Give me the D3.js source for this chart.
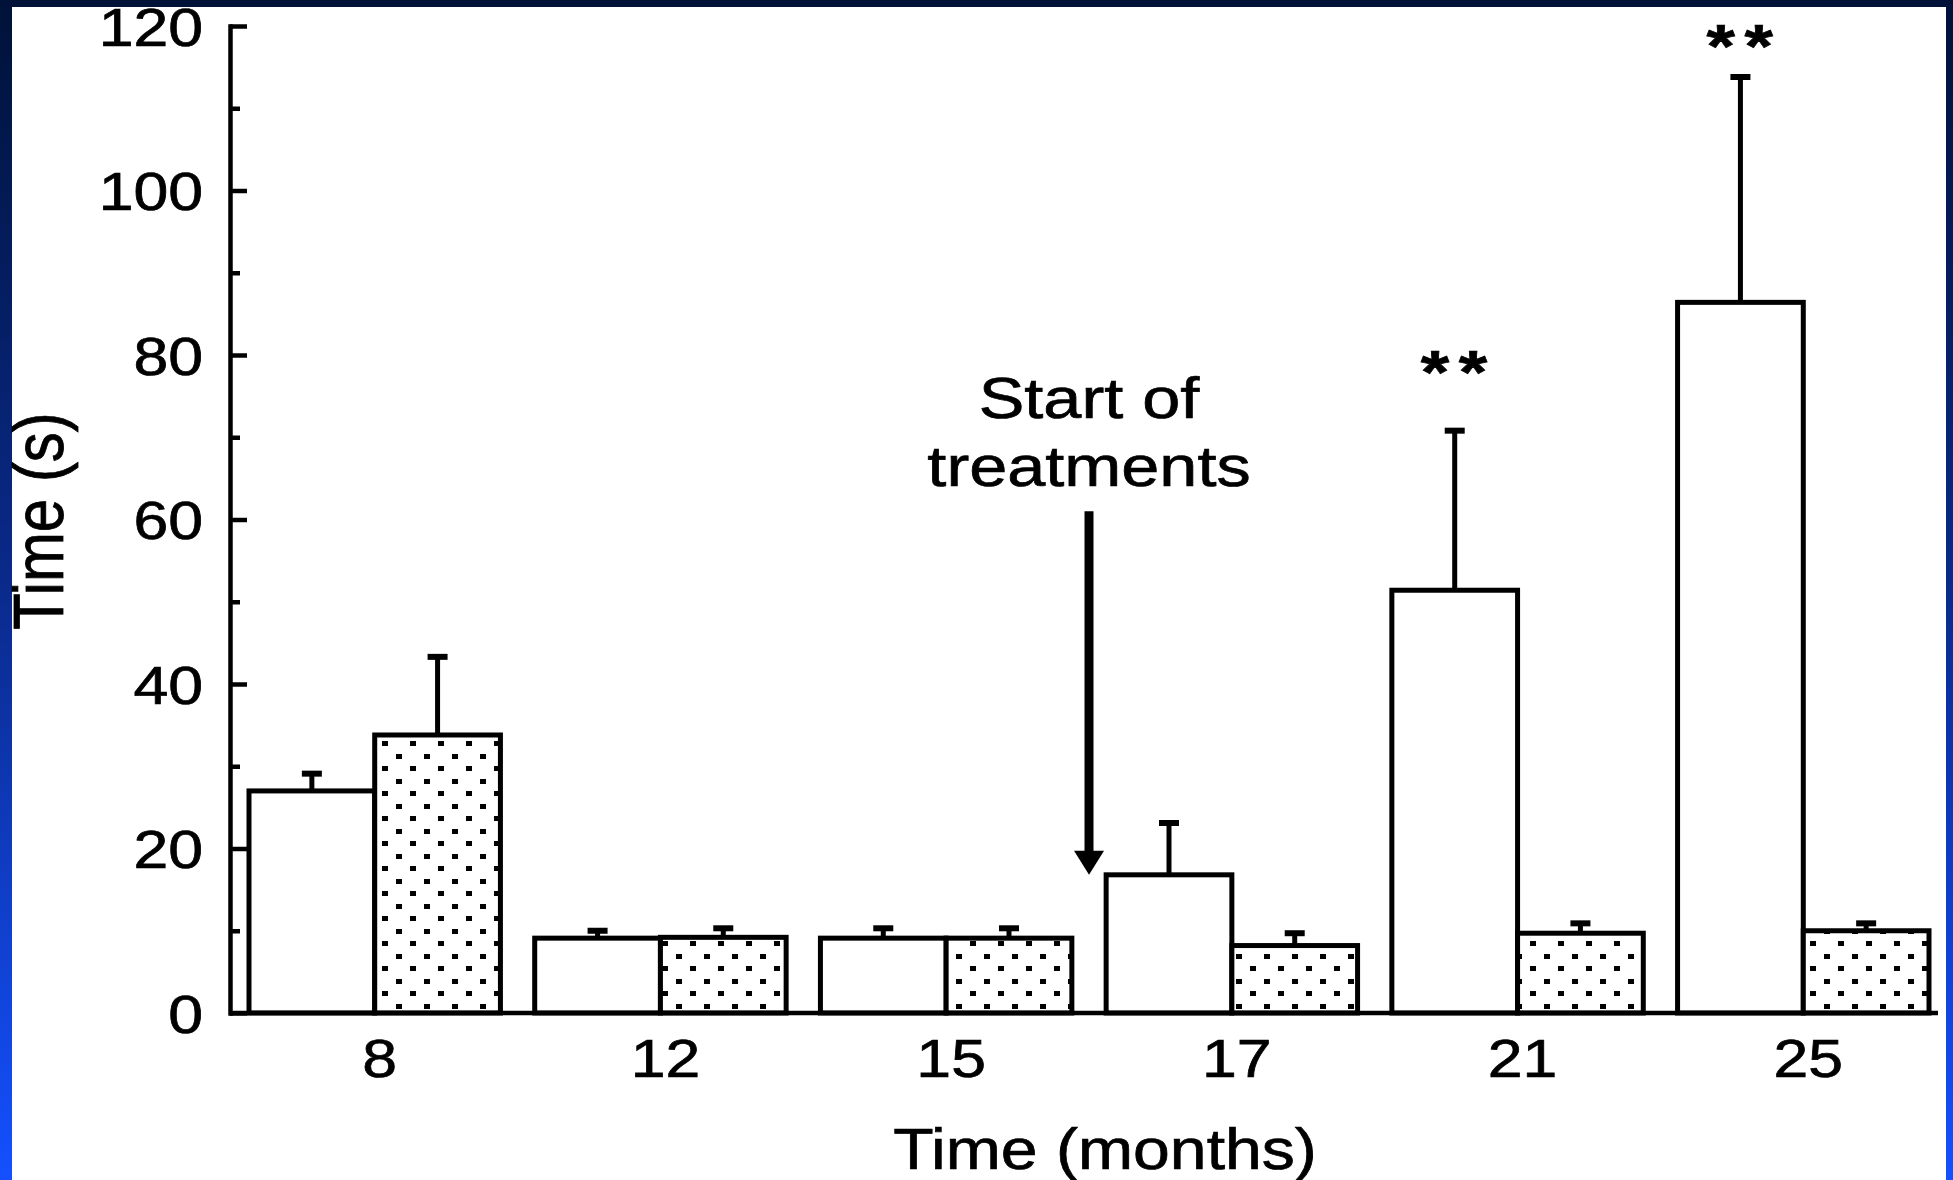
<!DOCTYPE html>
<html>
<head>
<meta charset="utf-8">
<title>Time (s) by month</title>
<script src="https://cdn.jsdelivr.net/npm/d3@7"></script>
<style>
    html, body { margin: 0; padding: 0; background: #fff; overflow: hidden; }
    svg { display: block; }
    text { font-family: "Liberation Sans", Arial, Helvetica, sans-serif; fill: #000; stroke: #000; stroke-width: 0.7px; }
</style>
</head>
<body>
<svg id="chart" width="1953" height="1180"></svg>
<script>
// Data
const MONTHS = ['8', '12', '15', '17', '21', '25'];
const SERIES = ['control', 'treated'];
const CONTROL_MEAN = [27.0, 9.1, 9.1, 16.8, 51.4, 86.4];
const CONTROL_SEM  = [2.1, 0.9, 1.2, 6.3, 19.4, 27.4];
const TREATED_MEAN = [33.8, 9.2, 9.1, 8.2, 9.7, 10.0];
const TREATED_SEM  = [9.5, 1.1, 1.2, 1.5, 1.2, 0.9];
const Y_TICKS = [0, 20, 40, 60, 80, 100, 120];
const Y_MINOR = [10, 30, 50, 70, 90, 110];
// significance marks: month (control bar) and the value height of the label
const SIG_MONTHS = ['21', '25'];
const SIG_LEVEL = [75.1, 114.8];
// "Start of treatments" arrow: between months, from / to value
const ARROW_BETWEEN = ['15', '17'];
const ARROW_RANGE = [61, 16.8];

// Layout
const CONFIG = {
    width: 1953,
    height: 1180,
    axisX: 230,
    baseY: 1013,
    topY: 26,
    barsLeft: 249,
    barsRight: 1929,
    axisEnd: 1938,
    stretch: 1.18,
    stroke: 5
};

const svg = d3.select('#chart');
const defs = svg.append('defs');

// slide background + white figure area
const grad = defs.append('linearGradient')
    .attr('id', 'bg')
    .attr('x1', 0).attr('y1', 0).attr('x2', 0).attr('y2', 1);
grad.append('stop').attr('offset', '0%').attr('stop-color', '#001238');
grad.append('stop').attr('offset', '50%').attr('stop-color', '#0a2a8c');
grad.append('stop').attr('offset', '100%').attr('stop-color', '#1450ff');

svg.append('rect')
    .attr('width', CONFIG.width)
    .attr('height', CONFIG.height)
    .attr('fill', 'url(#bg)');
svg.append('rect')
    .attr('x', 12).attr('y', 7)
    .attr('width', 1934).attr('height', CONFIG.height - 7)
    .attr('fill', '#fff');

// stipple pattern for treated bars
const pat = defs.append('pattern')
    .attr('id', 'dots')
    .attr('patternUnits', 'userSpaceOnUse')
    .attr('width', 28).attr('height', 25);
pat.append('rect').attr('width', 28).attr('height', 25).attr('fill', '#fff');
pat.append('rect').attr('x', 4).attr('y', 4).attr('width', 6).attr('height', 5).attr('fill', '#000');
pat.append('rect').attr('x', 18).attr('y', 16).attr('width', 6).attr('height', 5).attr('fill', '#000');

// Scales
const y = d3.scaleLinear()
    .domain([0, 120])
    .range([CONFIG.baseY, CONFIG.topY]);

const x0 = d3.scaleBand()
    .domain(MONTHS)
    .range([CONFIG.barsLeft, CONFIG.barsRight])
    .paddingInner(0.12)
    .paddingOuter(0);

const x1 = d3.scaleBand()
    .domain(SERIES)
    .range([0, x0.bandwidth()]);

const bars = MONTHS.flatMap((m, i) => [
    { month: m, key: 'control', mean: CONTROL_MEAN[i], sem: CONTROL_SEM[i] },
    { month: m, key: 'treated', mean: TREATED_MEAN[i], sem: TREATED_SEM[i] }
]);

const S = CONFIG.stretch;

// Bars
svg.append('g')
    .selectAll('rect')
    .data(bars)
    .join('rect')
    .attr('x', d => x0(d.month) + x1(d.key))
    .attr('y', d => y(d.mean))
    .attr('width', x1.bandwidth())
    .attr('height', d => y(0) - y(d.mean))
    .attr('fill', d => d.key === 'treated' ? 'url(#dots)' : '#fff')
    .attr('stroke', '#000')
    .attr('stroke-width', CONFIG.stroke);

// Error bars (upper only)
const eb = svg.append('g')
    .selectAll('g')
    .data(bars)
    .join('g')
    .attr('transform', d => `translate(${x0(d.month) + x1(d.key) + x1.bandwidth() / 2},0)`);
eb.append('line')
    .attr('y1', d => y(d.mean))
    .attr('y2', d => y(d.mean + d.sem))
    .attr('stroke', '#000')
    .attr('stroke-width', CONFIG.stroke);
eb.append('line')
    .attr('x1', -10).attr('x2', 10)
    .attr('y1', d => y(d.mean + d.sem))
    .attr('y2', d => y(d.mean + d.sem))
    .attr('stroke', '#000')
    .attr('stroke-width', CONFIG.stroke + 1);

// Y axis, ticks inside
const gy = svg.append('g')
    .attr('transform', `translate(${CONFIG.axisX},0)`)
    .call(d3.axisLeft(y).tickValues(Y_TICKS).tickSize(-17).tickSizeOuter(0).tickPadding(27));
gy.select('.domain').attr('stroke-width', 4.5).attr('stroke-linecap', 'square');
gy.selectAll('.tick line').attr('stroke-width', 4.5);
gy.selectAll('.tick text')
    .attr('font-size', 53)
    .attr('x', 0)
    .attr('dy', '0.36em')
    .attr('transform', `translate(-27,0) scale(${S},1)`);

const gyMinor = svg.append('g')
    .attr('transform', `translate(${CONFIG.axisX},0)`)
    .call(d3.axisLeft(y).tickValues(Y_MINOR).tickSize(-10).tickFormat(''));
gyMinor.select('.domain').remove();
gyMinor.selectAll('.tick line').attr('stroke-width', 4.5);

// X axis baseline + labels
svg.append('line')
    .attr('x1', CONFIG.axisX)
    .attr('x2', CONFIG.axisEnd)
    .attr('y1', y(0))
    .attr('y2', y(0))
    .attr('stroke', '#000')
    .attr('stroke-width', 4.5);

const gx = svg.append('g')
    .attr('transform', `translate(0,${y(0)})`)
    .call(d3.axisBottom(x0).tickSize(0).tickPadding(26));
gx.select('.domain').remove();
gx.selectAll('.tick text')
    .attr('font-size', 53)
    .attr('x', 0)
    .attr('transform', `translate(5,0) scale(${S},1)`);

// Axis titles
svg.append('text')
    .attr('text-anchor', 'middle')
    .attr('font-size', 58)
    .attr('transform', `translate(1105,1169) scale(1.14,1)`)
    .text('Time (months)');

svg.append('text')
    .attr('text-anchor', 'middle')
    .attr('font-size', 60)
    .attr('transform', `translate(63,521) scale(${S},1) rotate(-90)`)
    .text('Time (s)');

// Significance asterisks
SIG_MONTHS.forEach((m, i) => {
    const cx = x0(m) + x1('control') + x1.bandwidth() / 2;
    svg.append('text')
        .attr('text-anchor', 'middle')
        .attr('font-size', 62)
        .attr('font-weight', 'bold')
        .attr('letter-spacing', 8)
        .attr('transform', `translate(${cx + 4},${y(SIG_LEVEL[i]) - 2}) scale(${S},1)`)
        .text('**');
});

// Start of treatments arrow
const ax = (x0(ARROW_BETWEEN[0]) + x0.bandwidth() + x0(ARROW_BETWEEN[1])) / 2;
const aTop = y(ARROW_RANGE[0]);
const aTip = y(ARROW_RANGE[1]);
svg.append('line')
    .attr('x1', ax).attr('x2', ax)
    .attr('y1', aTop).attr('y2', aTip - 20)
    .attr('stroke', '#000')
    .attr('stroke-width', 9);
svg.append('path')
    .attr('d', `M${ax - 15},${aTip - 24}L${ax + 15},${aTip - 24}L${ax},${aTip}Z`)
    .attr('fill', '#000');

svg.append('text')
    .attr('text-anchor', 'middle')
    .attr('font-size', 58)
    .attr('transform', `translate(${ax},${aTop - 93}) scale(${S},1)`)
    .text('Start of');
svg.append('text')
    .attr('text-anchor', 'middle')
    .attr('font-size', 58)
    .attr('transform', `translate(${ax},${aTop - 25}) scale(${S},1)`)
    .text('treatments');
</script>
</body>
</html>
